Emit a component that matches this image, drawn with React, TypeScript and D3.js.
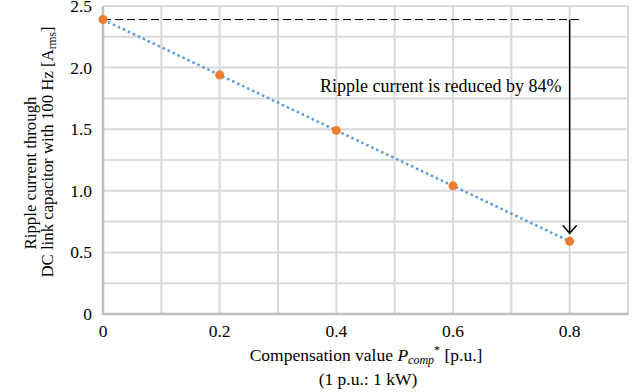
import React from "react";
import * as d3 from "d3";

const compensation = [0, 0.2, 0.4, 0.6, 0.8];
const rippleCurrent = [2.39, 1.94, 1.49, 1.04, 0.59];
const xTickLabels = [0, 0.2, 0.4, 0.6, 0.8];
const yTickLabels = [0, 0.5, 1.0, 1.5, 2.0, 2.5];
const annotationText = "Ripple current is reduced by 84%";

const W = 639;
const H = 392;
const font = "Liberation Serif, Times New Roman, serif";
const fs = 17.5;

export default function App() {
  const x = d3.scaleLinear().domain([0, 0.9]).range([103, 628]);
  const y = d3.scaleLinear().domain([0, 2.5]).range([314, 6]);

  const xGrid = d3.range(0, 0.9001, 0.1);
  const yGrid = d3.range(0, 2.5001, 0.25);

  const pts = compensation.map((c, i) => [c, rippleCurrent[i]] as [number, number]);
  const line = d3
    .line<[number, number]>()
    .x((d) => x(d[0]))
    .y((d) => y(d[1]));

  const top = rippleCurrent[0];
  const last = pts[pts.length - 1];
  const ax = x(last[0]);
  const ay0 = y(top);
  const ay1 = y(last[1]) - 8;

  const txt = { fontFamily: font, fontSize: fs, fill: "#000" } as const;
  const titleTxt = { fontFamily: font, fontSize: 16.8, fill: "#000" } as const;

  return (
    <svg width={W} height={H} style={{ position: "absolute", left: 0, top: 0 }}>
      <rect width={W} height={H} fill="#fff" />
      {xGrid.map((g, i) => (
        <line key={"xg" + i} x1={x(g)} x2={x(g)} y1={y(0)} y2={y(2.5)} stroke="#d9d9d9" strokeWidth={2} />
      ))}
      {yGrid.map((g, i) => (
        <line key={"yg" + i} x1={x(0)} x2={x(0.9)} y1={y(g)} y2={y(g)} stroke="#d9d9d9" strokeWidth={2} />
      ))}
      <line x1={x(0)} x2={x(0)} y1={y(0) + 1} y2={y(2.5)} stroke="#bfbfbf" strokeWidth={2.5} />
      <line x1={x(0)} x2={x(0.9)} y1={y(0)} y2={y(0)} stroke="#bfbfbf" strokeWidth={2.5} />

      {yTickLabels.map((t, i) => (
        <text key={"yt" + i} x={92} y={y(t) + 6} textAnchor="end" style={txt}>
          {t === 0 ? "0" : t.toFixed(1)}
        </text>
      ))}
      {xTickLabels.map((t, i) => (
        <text key={"xt" + i} x={x(t)} y={337} textAnchor="middle" style={txt}>
          {t === 0 ? "0" : String(t)}
        </text>
      ))}

      <line x1={x(0)} x2={ax + 10} y1={ay0} y2={ay0} stroke="#000" strokeWidth={1} strokeDasharray="8 4" />

      <path d={line(pts) || ""} fill="none" stroke="#5b9bd5" strokeWidth={2.5} strokeDasharray="2.5 3" />
      {pts.map((p, i) => (
        <circle key={"pt" + i} cx={x(p[0])} cy={y(p[1])} r={4.5} fill="#ed7d31" />
      ))}

      <line x1={ax} x2={ax} y1={ay0} y2={ay1} stroke="#000" strokeWidth={1.5} />
      <polyline
        points={`${ax - 7},${ay1 - 8} ${ax},${ay1} ${ax + 7},${ay1 - 8}`}
        fill="none"
        stroke="#000"
        strokeWidth={1.5}
      />
      <text x={320} y={92} style={{ ...txt, fontSize: 18 }}>
        {annotationText}
      </text>

      <text x={366} y={361} textAnchor="middle" style={txt}>
        Compensation value{" "}
        <tspan fontStyle="italic">P</tspan>
        <tspan fontStyle="italic" fontSize={12} dy={3}>comp</tspan>
        <tspan fontSize={12} dy={-10}>*</tspan>
        <tspan dy={7}> [p.u.]</tspan>
      </text>
      <text x={368} y={385} textAnchor="middle" style={txt}>
        (1 p.u.: 1 kW)
      </text>

      <g transform="translate(36,173) rotate(-90)">
        <text x={0} y={0} textAnchor="middle" style={titleTxt}>
          Ripple current through
        </text>
      </g>
      <g transform="translate(53,152) rotate(-90)">
        <text x={0} y={0} textAnchor="middle" style={titleTxt}>
          DC link capacitor with 100 Hz [A
          <tspan fontSize={11.5} dy={3}>rms</tspan>
          <tspan dy={-3}>]</tspan>
        </text>
      </g>
    </svg>
  );
}
